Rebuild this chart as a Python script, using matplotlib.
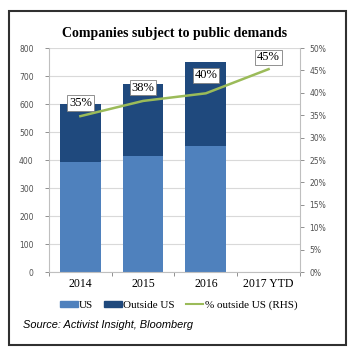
import matplotlib
matplotlib.use("Agg")
import matplotlib.pyplot as plt
import numpy as np
from matplotlib.patches import Rectangle, Patch
from matplotlib.lines import Line2D

categories = ["2014", "2015", "2016", "2017 YTD"]
us = [393, 414, 450, 0]
outside_us = [207, 256, 300, 0]
pct_outside = [34.8, 38.2, 39.9, 45.3]
pct_labels = ["35%", "38%", "40%", "45%"]

c_us = "#4F81BD"
c_out = "#1F497D"
c_line = "#9BBB59"
grey = "#7F7F7F"
serif = "Liberation Serif"

fig = plt.figure(figsize=(3.5, 3.51), dpi=100)
ax = fig.add_axes([0.14, 0.225, 0.717, 0.638])
x = np.arange(len(categories))
w = 0.65
ax.bar(x, us, w, color=c_us, zorder=2)
ax.bar(x, outside_us, w, bottom=us, color=c_out, zorder=2)
ax.set_xlim(-0.5, len(categories) - 0.5)
ax.set_ylim(0, 800)
ax.set_yticks(range(0, 801, 100))
ax.yaxis.grid(True, color="#D9D9D9", lw=0.8, zorder=0)
ax.set_axisbelow(True)
ax.tick_params(axis="y", labelsize=5.5, labelcolor="#505050", color=grey, length=3, width=0.6, pad=8)
ax.set_xticks(x)
ax.set_xticklabels(categories, fontfamily=serif, fontsize=8.5)
ax.tick_params(axis="x", length=0, pad=4)
ax.set_xticks(np.arange(-0.5, len(categories)), minor=True)
ax.tick_params(axis="x", which="minor", length=3, color=grey, width=0.6)
for s in ["top", "right"]:
    ax.spines[s].set_visible(False)
for s in ["left", "bottom"]:
    ax.spines[s].set_color("#BFBFBF")
    ax.spines[s].set_linewidth(0.8)

ax2 = ax.twinx()
ax2.plot(x, pct_outside, color=c_line, lw=1.8, zorder=3)
ax2.set_ylim(0, 50)
ax2.set_yticks(range(0, 51, 5))
ax2.set_yticklabels([f"{v}%" for v in range(0, 51, 5)])
ax2.tick_params(axis="y", labelsize=5.5, labelcolor="#505050", color=grey, length=3, width=0.6, pad=4)
for s in ["top", "left", "bottom"]:
    ax2.spines[s].set_visible(False)
ax2.spines["right"].set_color("#BFBFBF")
ax2.spines["right"].set_linewidth(0.8)

label_offsets = [3.0, 3.0, 4.0, 2.6]
for xi, p, lab, off in zip(x, pct_outside, pct_labels, label_offsets):
    ax2.text(xi, p + off, lab, ha="center", va="center", fontfamily=serif, fontsize=9,
             bbox=dict(boxstyle="square,pad=0.15", fc="white", ec="#7F7F7F", lw=0.6), zorder=5)

fig.text(0.5, 0.905, "Companies subject to public demands", ha="center", va="center",
         fontfamily=serif, fontweight="bold", fontsize=10)

handles = [Patch(color=c_us, label="US"), Patch(color=c_out, label="Outside US"),
           Line2D([0], [0], color=c_line, lw=1.5, label="% outside US (RHS)")]
fig.legend(handles=handles, loc="center", bbox_to_anchor=(0.51, 0.13), ncol=3, frameon=False,
           prop=dict(family=serif, size=8), handlelength=1.6, handleheight=0.5,
           columnspacing=1.0, handletextpad=0.1)

fig.text(0.066, 0.073, "Source: Activist Insight, Bloomberg", ha="left", va="center",
         fontfamily="Liberation Sans", fontstyle="italic", fontsize=7.9)

fig.add_artist(Rectangle((0.026, 0.017), 0.963, 0.952, transform=fig.transFigure,
                         fill=False, ec="#303030", lw=1.5))

fig.savefig("out.png", dpi=100, facecolor="white")
